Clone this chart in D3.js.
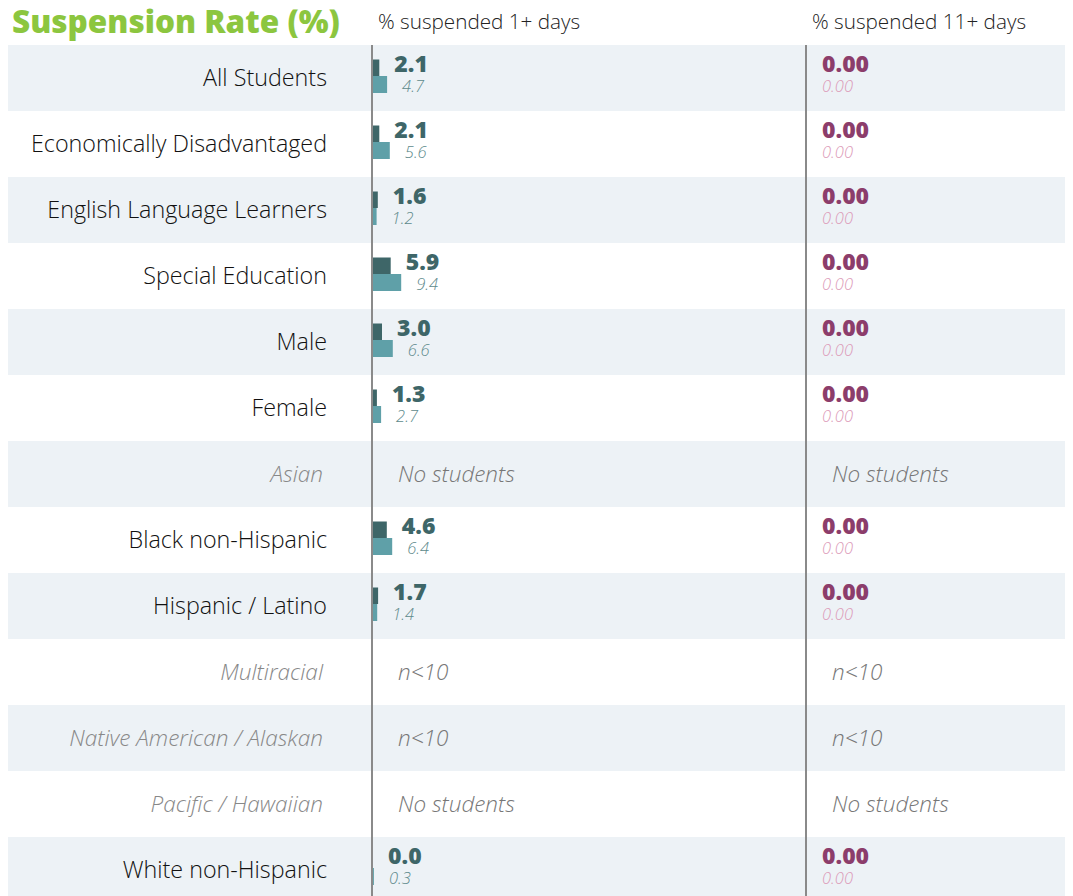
<!DOCTYPE html>
<html><head><meta charset="utf-8">
<script src="https://cdn.jsdelivr.net/npm/d3@7"></script>
<style>
html,body{margin:0;padding:0;background:#fff;}
svg{display:block;font-family:"Open Sans",sans-serif;}
</style></head>
<body>
<svg id="chart" width="1073" height="896"></svg>
<script>
const title = "Suspension Rate (%)";
const colHeaders = ["% suspended 1+ days", "% suspended 11+ days"];
const categories = ["All Students","Economically Disadvantaged","English Language Learners","Special Education","Male","Female","Asian","Black non-Hispanic","Hispanic / Latino","Multiracial","Native American / Alaskan","Pacific / Hawaiian","White non-Hispanic"];
const rate1 =    [2.1, 2.1, 1.6, 5.9, 3.0, 1.3, null, 4.6, 1.7, null, null, null, 0.0];
const compare1 = [4.7, 5.6, 1.2, 9.4, 6.6, 2.7, null, 6.4, 1.4, null, null, null, 0.3];
const rate11 =    [0, 0, 0, 0, 0, 0, null, 0, 0, null, null, null, 0];
const compare11 = [0, 0, 0, 0, 0, 0, null, 0, 0, null, null, null, 0];
const status = ["","","","","","","No students","","","n<10","n<10","No students",""];

const svg = d3.select("#chart");
const rowH = 66, topY = 45;
const y = d3.scaleBand().domain(categories).range([topY, topY + rowH * categories.length]).padding(0);
const x1 = d3.scaleLinear().domain([0, 10]).range([373, 403]);
const x2 = d3.scaleLinear().domain([0, 10]).range([807, 837]);

// row backgrounds
svg.append("g").selectAll("rect").data(categories).join("rect")
  .attr("x", 8).attr("width", 1057)
  .attr("y", d => y(d)).attr("height", y.bandwidth())
  .attr("fill", (d, i) => i % 2 === 0 ? "#edf2f6" : "#ffffff");

// title & headers
svg.append("text").attr("x", 12).attr("y", 33).text(title)
  .attr("font-size", 31.5).attr("font-weight", 800).attr("fill", "#8cc63f");
svg.append("text").attr("x", 378).attr("y", 29).text(colHeaders[0])
  .attr("font-size", 20.7).attr("font-weight", 300).attr("fill", "#222");
svg.append("text").attr("x", 812).attr("y", 29).text(colHeaders[1])
  .attr("font-size", 20.7).attr("font-weight", 300).attr("fill", "#222");

// category labels
svg.append("g").selectAll("text").data(categories).join("text")
  .attr("x", (d, i) => status[i] ? 323 : 327).attr("y", d => y(d) + y.bandwidth() / 2 + 7.5)
  .attr("text-anchor", "end").attr("font-weight", 300)
  .attr("font-size", (d, i) => status[i] ? 22.6 : 23.3)
  .attr("font-style", (d, i) => status[i] ? "italic" : "normal")
  .attr("fill", (d, i) => status[i] ? "#888" : "#111")
  .text(d => d);

const rows = categories.map((c, i) => ({c, i, r1: rate1[i], c1: compare1[i], r11: rate11[i], c11: compare11[i], s: status[i]}));
const valid = rows.filter(d => !d.s);
const missing = rows.filter(d => d.s);

// bars column 1
svg.append("g").selectAll("rect").data(valid).join("rect")
  .attr("x", x1(0)).attr("y", d => y(d.c) + 14.5)
  .attr("width", d => x1(d.r1) - x1(0)).attr("height", 16.5).attr("fill", "#3e6668");
svg.append("g").selectAll("rect").data(valid).join("rect")
  .attr("x", x1(0)).attr("y", d => y(d.c) + 31)
  .attr("width", d => x1(d.c1) - x1(0)).attr("height", 17).attr("fill", "#5fa0a8");
// bars column 2
svg.append("g").selectAll("rect").data(valid).join("rect")
  .attr("x", x2(0)).attr("y", d => y(d.c) + 14.5)
  .attr("width", d => x2(d.r11) - x2(0)).attr("height", 16.5).attr("fill", "#8c3d6b");
svg.append("g").selectAll("rect").data(valid).join("rect")
  .attr("x", x2(0)).attr("y", d => y(d.c) + 31)
  .attr("width", d => x2(d.c11) - x2(0)).attr("height", 17).attr("fill", "#e3a9c4");

// value labels col 1
svg.append("g").selectAll("text").data(valid).join("text")
  .attr("x", d => x1(d.r1) + 15).attr("y", d => y(d.c) + 26.7)
  .attr("font-size", 23).attr("font-weight", 800).attr("fill", "#3e6668")
  .text(d => d.r1.toFixed(1));
svg.append("g").selectAll("text").data(valid).join("text")
  .attr("x", d => x1(d.c1) + 15).attr("y", d => y(d.c) + 46.7)
  .attr("font-size", 16.5).attr("font-weight", 300).attr("font-style", "italic").attr("fill", "#5e8a8c")
  .text(d => d.c1.toFixed(1));
// value labels col 2
svg.append("g").selectAll("text").data(valid).join("text")
  .attr("x", d => x2(d.r11) + 15).attr("y", d => y(d.c) + 26.7)
  .attr("font-size", 23).attr("font-weight", 800).attr("fill", "#8c3d6b")
  .text(d => d.r11.toFixed(2));
svg.append("g").selectAll("text").data(valid).join("text")
  .attr("x", d => x2(d.c11) + 15).attr("y", d => y(d.c) + 46.7)
  .attr("font-size", 16.5).attr("font-weight", 300).attr("font-style", "italic").attr("fill", "#dc9bb8")
  .text(d => d.c11.toFixed(2));

// status texts
[x1, x2].forEach(sc => {
  svg.append("g").selectAll("text").data(missing).join("text")
    .attr("x", sc(0) + 25).attr("y", d => y(d.c) + y.bandwidth() / 2 + 7.5)
    .attr("font-size", 22.5).attr("font-weight", 300).attr("font-style", "italic").attr("fill", "#777")
    .text(d => d.s);
});

// axis lines
[x1, x2].forEach(sc => {
  svg.append("line").attr("x1", sc(0) - 1).attr("x2", sc(0) - 1)
    .attr("y1", topY).attr("y2", 896)
    .attr("stroke", "#8a8a8a").attr("stroke-width", 2);
});
</script>
</body></html>
